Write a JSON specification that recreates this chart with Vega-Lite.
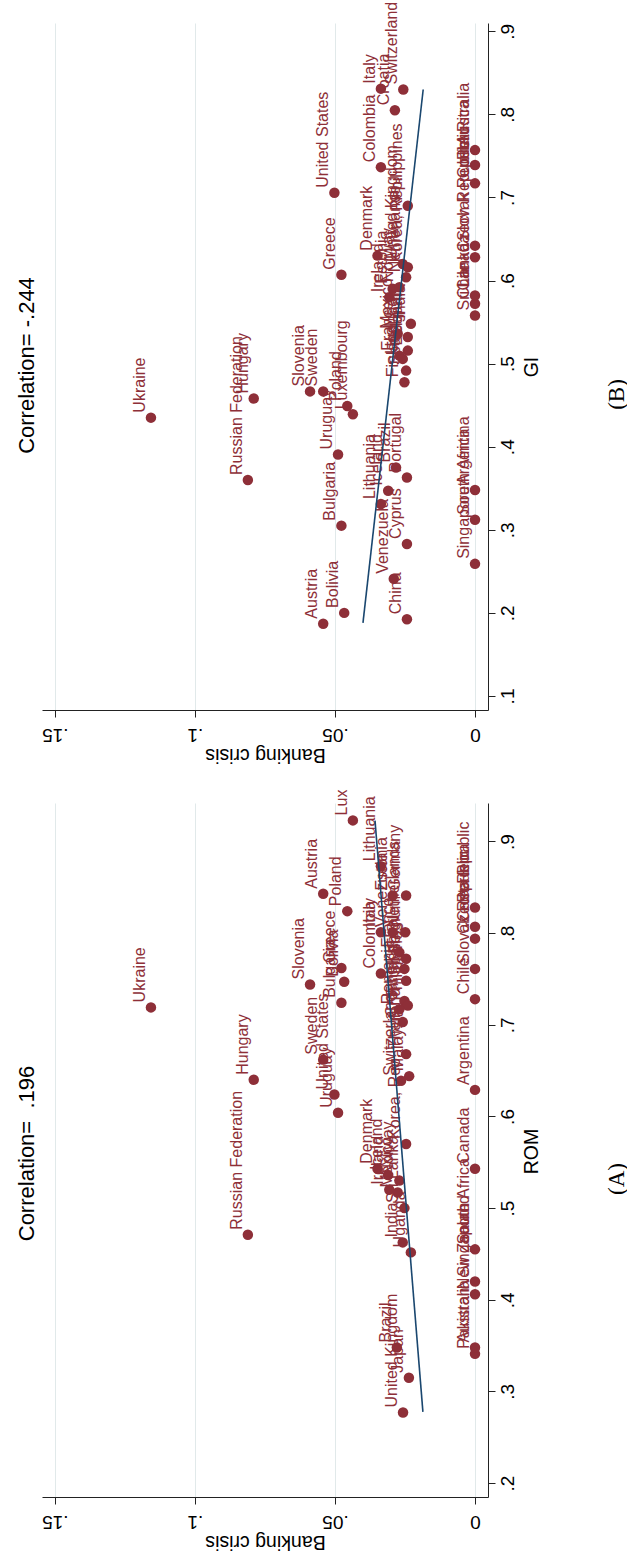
{
  "$schema": "https://vega.github.io/schema/vega-lite/v6.json",
  "background": "white",
  "padding": {"left": 15, "top": 1, "right": 0, "bottom": 12},
  "bounds": "flush",
  "spacing": 93,
  "config": {
    "font": "Liberation Sans",
    "view": {"stroke": null},
    "axis": {
      "labelFont": "Liberation Sans",
      "titleFont": "Liberation Sans",
      "labelColor": "#000000",
      "titleColor": "#000000",
      "titleFontWeight": "normal",
      "domainColor": "#222222",
      "tickColor": "#222222",
      "domainWidth": 1,
      "tickWidth": 1
    }
  },
  "datasets": {
    "rom": [
      {"country": "Ukraine", "crisis": 0.1157, "rom": 0.719},
      {"country": "Russian Federation", "crisis": 0.0811, "rom": 0.471},
      {"country": "Hungary", "crisis": 0.0790, "rom": 0.640},
      {"country": "Slovenia", "crisis": 0.0589, "rom": 0.744},
      {"country": "Sweden", "crisis": 0.0542, "rom": 0.662},
      {"country": "Austria", "crisis": 0.0542, "rom": 0.843},
      {"country": "United States", "crisis": 0.0502, "rom": 0.624},
      {"country": "Uruguay", "crisis": 0.0489, "rom": 0.604},
      {"country": "Greece", "crisis": 0.0477, "rom": 0.762},
      {"country": "Bolivia", "crisis": 0.0467, "rom": 0.747},
      {"country": "Bulgaria", "crisis": 0.0477, "rom": 0.724},
      {"country": "Poland", "crisis": 0.0456, "rom": 0.824},
      {"country": "Luxembourg", "crisis": 0.0436, "rom": 0.923},
      {"country": "Lithuania", "crisis": 0.0336, "rom": 0.873},
      {"country": "Estonia", "crisis": 0.0294, "rom": 0.841},
      {"country": "Germany", "crisis": 0.0246, "rom": 0.841},
      {"country": "Italy", "crisis": 0.0336, "rom": 0.801},
      {"country": "Venezuela", "crisis": 0.0294, "rom": 0.801},
      {"country": "Netherlands", "crisis": 0.0249, "rom": 0.801},
      {"country": "Colombia", "crisis": 0.0336, "rom": 0.756},
      {"country": "France", "crisis": 0.0270, "rom": 0.779},
      {"country": "Belgium", "crisis": 0.0246, "rom": 0.772},
      {"country": "Kenya", "crisis": 0.0252, "rom": 0.761},
      {"country": "Spain", "crisis": 0.0246, "rom": 0.748},
      {"country": "Finland", "crisis": 0.0252, "rom": 0.726},
      {"country": "Philippines", "crisis": 0.0240, "rom": 0.721},
      {"country": "Romania", "crisis": 0.0270, "rom": 0.717},
      {"country": "Croatia", "crisis": 0.0258, "rom": 0.703},
      {"country": "Thailand", "crisis": 0.0246, "rom": 0.668},
      {"country": "Malaysia", "crisis": 0.0235, "rom": 0.644},
      {"country": "Switzerland", "crisis": 0.0264, "rom": 0.639},
      {"country": "Korea, Rep.", "crisis": 0.0246, "rom": 0.570},
      {"country": "Denmark", "crisis": 0.0348, "rom": 0.543},
      {"country": "Iceland", "crisis": 0.0310, "rom": 0.536},
      {"country": "Norway", "crisis": 0.0270, "rom": 0.530},
      {"country": "Ireland", "crisis": 0.0306, "rom": 0.520},
      {"country": "Mexico", "crisis": 0.0276, "rom": 0.517},
      {"country": "Sri Lanka", "crisis": 0.0252, "rom": 0.500},
      {"country": "India", "crisis": 0.0258, "rom": 0.4626},
      {"country": "Uganda", "crisis": 0.0229, "rom": 0.4517},
      {"country": "Brazil", "crisis": 0.0279, "rom": 0.348},
      {"country": "Japan", "crisis": 0.0236, "rom": 0.315},
      {"country": "United Kingdom", "crisis": 0.0257, "rom": 0.277},
      {"country": "Pakistan", "crisis": 0, "rom": 0.341},
      {"country": "Australia", "crisis": 0, "rom": 0.348},
      {"country": "New Zealand", "crisis": 0, "rom": 0.406},
      {"country": "Singapore", "crisis": 0, "rom": 0.420},
      {"country": "South Africa", "crisis": 0, "rom": 0.455},
      {"country": "Canada", "crisis": 0, "rom": 0.543},
      {"country": "Argentina", "crisis": 0, "rom": 0.629},
      {"country": "Chile", "crisis": 0, "rom": 0.728},
      {"country": "Slovak Republic", "crisis": 0, "rom": 0.761},
      {"country": "Czech Republic", "crisis": 0, "rom": 0.794},
      {"country": "Costa Rica", "crisis": 0, "rom": 0.807},
      {"country": "Peru", "crisis": 0, "rom": 0.828}
    ],
    "gi": [
      {"country": "Ukraine", "crisis": 0.1157, "gi": 0.435},
      {"country": "Russian Federation", "crisis": 0.0811, "gi": 0.360},
      {"country": "Hungary", "crisis": 0.0790, "gi": 0.458},
      {"country": "Slovenia", "crisis": 0.0589, "gi": 0.4666},
      {"country": "Sweden", "crisis": 0.0542, "gi": 0.4666},
      {"country": "Austria", "crisis": 0.0542, "gi": 0.187},
      {"country": "United States", "crisis": 0.0502, "gi": 0.7057},
      {"country": "Uruguay", "crisis": 0.0489, "gi": 0.3907},
      {"country": "Greece", "crisis": 0.0477, "gi": 0.607},
      {"country": "Bulgaria", "crisis": 0.0477, "gi": 0.305},
      {"country": "Bolivia", "crisis": 0.0467, "gi": 0.200},
      {"country": "Poland", "crisis": 0.0456, "gi": 0.449},
      {"country": "Luxembourg", "crisis": 0.0436, "gi": 0.439},
      {"country": "Denmark", "crisis": 0.0348, "gi": 0.630},
      {"country": "Lithuania", "crisis": 0.0336, "gi": 0.331},
      {"country": "Colombia", "crisis": 0.0336, "gi": 0.7365},
      {"country": "Italy", "crisis": 0.0336, "gi": 0.831},
      {"country": "Iceland", "crisis": 0.0310, "gi": 0.347},
      {"country": "Ireland", "crisis": 0.0306, "gi": 0.580},
      {"country": "Estonia", "crisis": 0.0294, "gi": 0.590},
      {"country": "Venezuela", "crisis": 0.0290, "gi": 0.241},
      {"country": "Croatia", "crisis": 0.0286, "gi": 0.805},
      {"country": "Brazil", "crisis": 0.0282, "gi": 0.375},
      {"country": "Mexico", "crisis": 0.0276, "gi": 0.536},
      {"country": "Norway", "crisis": 0.0270, "gi": 0.592},
      {"country": "France", "crisis": 0.0270, "gi": 0.5096},
      {"country": "Switzerland", "crisis": 0.0256, "gi": 0.830},
      {"country": "United Kingdom", "crisis": 0.0258, "gi": 0.620},
      {"country": "Uganda", "crisis": 0.0258, "gi": 0.5057},
      {"country": "Finland", "crisis": 0.0252, "gi": 0.4775},
      {"country": "Netherlands", "crisis": 0.0246, "gi": 0.604},
      {"country": "Spain", "crisis": 0.0246, "gi": 0.4916},
      {"country": "Portugal", "crisis": 0.0243, "gi": 0.363},
      {"country": "Cyprus", "crisis": 0.0243, "gi": 0.283},
      {"country": "China", "crisis": 0.0243, "gi": 0.1923},
      {"country": "Korea, Rep.", "crisis": 0.0240, "gi": 0.616},
      {"country": "Japan", "crisis": 0.0240, "gi": 0.532},
      {"country": "Belgium", "crisis": 0.0240, "gi": 0.5157},
      {"country": "Philippines", "crisis": 0.0240, "gi": 0.690},
      {"country": "India", "crisis": 0.0229, "gi": 0.548},
      {"country": "Singapore", "crisis": 0, "gi": 0.259},
      {"country": "South Africa", "crisis": 0, "gi": 0.312},
      {"country": "Argentina", "crisis": 0, "gi": 0.348},
      {"country": "Sri Lanka", "crisis": 0, "gi": 0.558},
      {"country": "Chile", "crisis": 0, "gi": 0.572},
      {"country": "Canada", "crisis": 0, "gi": 0.582},
      {"country": "Czech Republic", "crisis": 0, "gi": 0.628},
      {"country": "Slovak Republic", "crisis": 0, "gi": 0.642},
      {"country": "Costa Rica", "crisis": 0, "gi": 0.717},
      {"country": "Peru", "crisis": 0, "gi": 0.739},
      {"country": "Australia", "crisis": 0, "gi": 0.757}
    ],
    "fitRom": [
      {"crisis": 0.0186, "rom": 0.2777},
      {"crisis": 0.0357, "rom": 0.9228}
    ],
    "fitGi": [
      {"crisis": 0.0400, "gi": 0.188},
      {"crisis": 0.0185, "gi": 0.830}
    ]
  },
  "vconcat": [
    {
      "width": 446,
      "height": 687,
      "title": {"text": "(B)", "orient": "right", "angle": 270, "baseline": "top", "font": "Liberation Serif", "fontSize": 23, "fontWeight": "normal", "color": "#000000", "offset": 42, "dx": -28},
      "resolve": {"axis": {"y": "independent"}},
      "layer": [
        {
          "data": {"name": "gi"},
          "mark": {"type": "circle", "size": 110, "opacity": 1, "color": "#8e2f38"},
          "encoding": {
            "x": {"field": "crisis", "type": "quantitative", "scale": {"domain": [-0.00464, 0.1546], "reverse": true, "nice": false, "zero": false},
              "axis": {"orient": "bottom", "values": [0, 0.05, 0.1, 0.15], "labelExpr": "datum.value == 0 ? '0' : substring(format(datum.value, '.2~f'), 1)", "labelAngle": 180, "labelAlign": "center", "labelBaseline": "alphabetic", "labelPadding": 11, "labelFontSize": 19, "tickSize": 7, "title": "Banking crisis", "titleAngle": 180, "titleBaseline": "alphabetic", "titleY": 38, "titleFontSize": 19.5, "grid": true, "gridColor": "#e1e9ea", "gridWidth": 1}},
            "y": {"field": "gi", "type": "quantitative", "scale": {"domain": [0.0831, 0.910], "nice": false, "zero": false},
              "axis": {"orient": "right", "values": [0.1, 0.2, 0.3, 0.4, 0.5, 0.6, 0.7, 0.8, 0.9], "labelExpr": "substring(format(datum.value, '.1f'), 1)", "labelAngle": 270, "labelAlign": "center", "labelBaseline": "alphabetic", "labelPadding": 18, "labelFontSize": 19, "tickSize": 7, "grid": false, "title": "GI", "titleAngle": 270, "titleBaseline": "alphabetic", "titleX": 49, "titleY": 343.5, "titleFontSize": 19.5}}
          }
        },
        {
          "data": {"name": "gi"},
          "mark": {"type": "text", "angle": 270, "align": "left", "baseline": "alphabetic", "dx": 5, "dy": -6, "fontSize": 16, "color": "#8e2f38"},
          "encoding": {
            "x": {"field": "crisis", "type": "quantitative"},
            "y": {"field": "gi", "type": "quantitative", "axis": null},
            "text": {"field": "country"}
          }
        },
        {
          "data": {"name": "fitGi"},
          "mark": {"type": "line", "color": "#1a476f", "strokeWidth": 1.6},
          "encoding": {
            "x": {"field": "crisis", "type": "quantitative"},
            "y": {"field": "gi", "type": "quantitative", "axis": null}
          }
        },
        {
          "data": {"name": "fitGi"},
          "mark": {"type": "point", "opacity": 0},
          "encoding": {
            "x": {"field": "crisis", "type": "quantitative"},
            "y": {"field": "gi", "type": "quantitative",
              "axis": {"orient": "left", "domain": false, "ticks": false, "labels": false, "grid": false, "title": "Correlation= -.244", "titleFontSize": 22, "titleAngle": 270, "titleBaseline": "alphabetic", "titleX": -9, "titleY": 342}}
          }
        }
      ]
    },
    {
      "width": 446,
      "height": 694,
      "title": {"text": "(A)", "orient": "right", "angle": 270, "baseline": "top", "font": "Liberation Serif", "fontSize": 23, "fontWeight": "normal", "color": "#000000", "offset": 42, "dx": -29},
      "resolve": {"axis": {"y": "independent"}},
      "layer": [
        {
          "data": {"name": "rom"},
          "mark": {"type": "circle", "size": 110, "opacity": 1, "color": "#8e2f38"},
          "encoding": {
            "x": {"field": "crisis", "type": "quantitative", "scale": {"domain": [-0.00464, 0.1546], "reverse": true, "nice": false, "zero": false},
              "axis": {"orient": "bottom", "values": [0, 0.05, 0.1, 0.15], "labelExpr": "datum.value == 0 ? '0' : substring(format(datum.value, '.2~f'), 1)", "labelAngle": 180, "labelAlign": "center", "labelBaseline": "alphabetic", "labelPadding": 11, "labelFontSize": 19, "tickSize": 7, "title": "Banking crisis", "titleAngle": 180, "titleBaseline": "alphabetic", "titleY": 38, "titleFontSize": 19.5, "grid": true, "gridColor": "#e1e9ea", "gridWidth": 1}},
            "y": {"field": "rom", "type": "quantitative", "scale": {"domain": [0.1848, 0.942], "nice": false, "zero": false},
              "axis": {"orient": "right", "values": [0.2, 0.3, 0.4, 0.5, 0.6, 0.7, 0.8, 0.9], "labelExpr": "substring(format(datum.value, '.1f'), 1)", "labelAngle": 270, "labelAlign": "center", "labelBaseline": "alphabetic", "labelPadding": 18, "labelFontSize": 19, "tickSize": 7, "grid": false, "title": "ROM", "titleAngle": 270, "titleBaseline": "alphabetic", "titleX": 49, "titleY": 348, "titleFontSize": 19.5}}
          }
        },
        {
          "data": {"name": "rom"},
          "transform": [{"filter": "datum.country !== 'Luxembourg'"}],
          "mark": {"type": "text", "angle": 270, "align": "left", "baseline": "alphabetic", "dx": 5, "dy": -6, "fontSize": 16, "color": "#8e2f38"},
          "encoding": {
            "x": {"field": "crisis", "type": "quantitative"},
            "y": {"field": "rom", "type": "quantitative", "axis": null},
            "text": {"field": "country"}
          }
        },
        {
          "data": {"name": "rom"},
          "transform": [{"filter": "datum.country === 'Luxembourg'"}],
          "mark": {"type": "text", "angle": 270, "align": "left", "baseline": "alphabetic", "dx": 5, "dy": -6, "fontSize": 16, "color": "#8e2f38", "limit": 30, "ellipsis": "\u200b"},
          "encoding": {
            "x": {"field": "crisis", "type": "quantitative"},
            "y": {"field": "rom", "type": "quantitative", "axis": null},
            "text": {"field": "country"}
          }
        },
        {
          "data": {"name": "fitRom"},
          "mark": {"type": "line", "color": "#1a476f", "strokeWidth": 1.6},
          "encoding": {
            "x": {"field": "crisis", "type": "quantitative"},
            "y": {"field": "rom", "type": "quantitative", "axis": null}
          }
        },
        {
          "data": {"name": "fitRom"},
          "mark": {"type": "point", "opacity": 0},
          "encoding": {
            "x": {"field": "crisis", "type": "quantitative"},
            "y": {"field": "rom", "type": "quantitative",
              "axis": {"orient": "left", "domain": false, "ticks": false, "labels": false, "grid": false, "title": "Correlation=\u00a0 .196", "titleFontSize": 22, "titleAngle": 270, "titleBaseline": "alphabetic", "titleX": -9, "titleY": 350}}
          }
        }
      ]
    }
  ]
}
